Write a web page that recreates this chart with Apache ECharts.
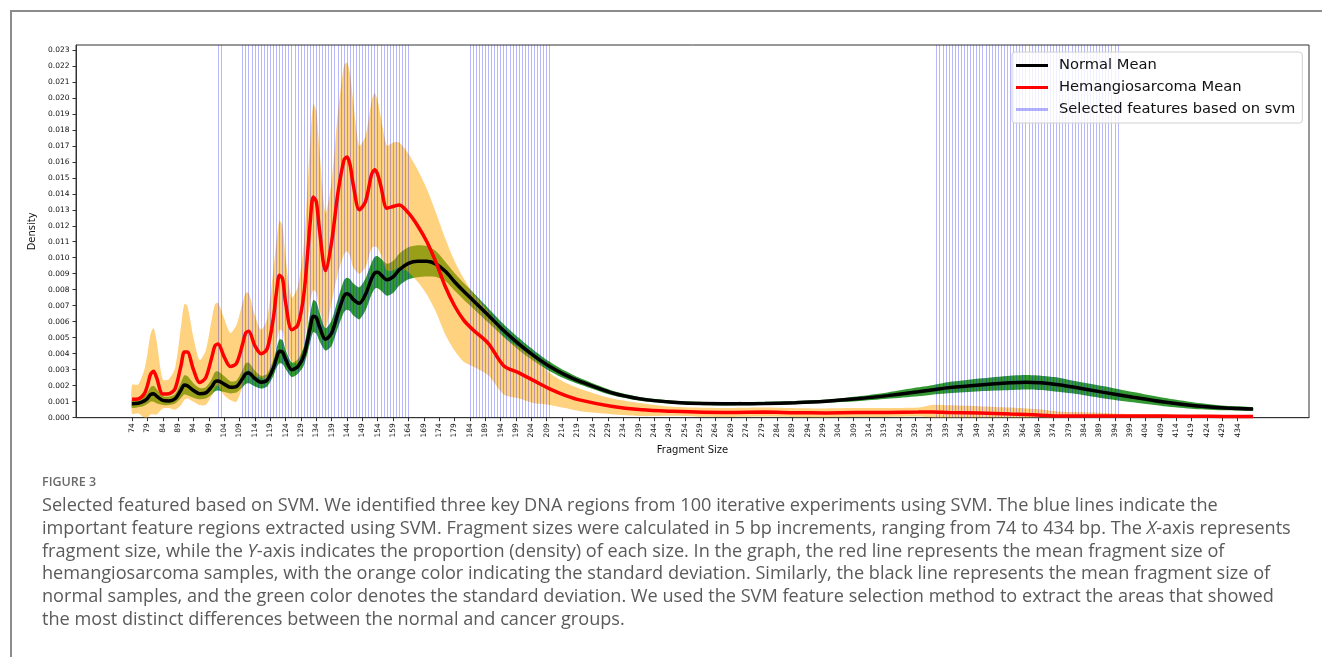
<!DOCTYPE html>
<html>
<head>
<meta charset="utf-8">
<title>Figure 3</title>
<script src="https://cdn.jsdelivr.net/npm/echarts@6.0.0/dist/echarts.min.js"></script>
<style>
html, body { margin: 0; padding: 0; background: #fff; }
#frame { position: absolute; left: 10px; top: 10px; width: 1400px; height: 700px;
  border-left: 2px solid #8c8c8c; border-top: 2px solid #8c8c8c; }
#main { position: absolute; left: 0; top: 0; width: 1322px; height: 657px; }
#caption { position: absolute; left: 0; top: 0; font-family: "Open Sans", sans-serif; white-space: nowrap; }
#caption .fig { position: absolute; left: 42px; top: 474px; font-size: 12.5px; line-height: 16px;
  font-weight: 600; color: #6b6b6b; }
#caption .body { position: absolute; left: 42px; top: 493px; font-size: 16.5px; line-height: 22.8px;
  color: #5a5a5a; }
</style>
</head>
<body>
<div id="frame"></div>
<div id="main"></div>
<div id="caption">
  <div class="fig">FIGURE 3</div>
  <div class="body" id="capbody">Selected featured based on SVM. We identified three key DNA regions from 100 iterative experiments using SVM. The blue lines indicate the<br><span id="line2">important feature regions extracted using SVM. Fragment sizes were calculated in 5 bp increments, ranging from 74 to 434 bp. The <i>X</i>-axis represents</span><br>fragment size, while the <i>Y</i>-axis indicates the proportion (density) of each size. In the graph, the red line represents the mean fragment size of<br>hemangiosarcoma samples, with the orange color indicating the standard deviation. Similarly, the black line represents the mean fragment size of<br>normal samples, and the green color denotes the standard deviation. We used the SVM feature selection method to extract the areas that showed<br>the most distinct differences between the normal and cancer groups.</div>
</div>
<script>
// fragment sizes (bp) where the curves were read
var sizes = [74, 76, 78, 79, 80, 81, 82, 84, 86, 88, 90, 91, 92, 94, 96, 98, 100, 101, 102, 104,
  106, 108, 110, 111, 112, 114, 116, 118, 120, 121, 122, 123, 124, 126, 128, 130, 132, 133, 134, 135,
  137, 139, 141, 143, 144, 145, 146, 148, 150, 152, 153, 154, 155, 157, 159, 161, 164, 167, 170, 173,
  176, 179, 182, 185, 190, 195, 200, 205, 210, 215, 220, 230, 240, 250, 260, 270, 280, 290, 300, 310,
  320, 330, 335, 340, 350, 360, 365, 370, 375, 380, 390, 400, 410, 420, 430, 439];

var normalMean = [0.00087, 0.00090, 0.00105, 0.00120, 0.00145, 0.00150, 0.00135, 0.00108, 0.00105, 0.00118,
  0.00175, 0.00205, 0.00200, 0.00170, 0.00150, 0.00155, 0.00195, 0.00225, 0.00230, 0.00210,
  0.00190, 0.00195, 0.00245, 0.00275, 0.00280, 0.00245, 0.00222, 0.00235, 0.00310, 0.00370,
  0.00415, 0.00410, 0.00365, 0.00300, 0.00320, 0.00390, 0.00560, 0.00635, 0.00625, 0.00570,
  0.00490, 0.00530, 0.00650, 0.00760, 0.00775, 0.00765, 0.00740, 0.00715, 0.00770, 0.00870,
  0.00905, 0.00910, 0.00895, 0.00862, 0.00880, 0.00925, 0.00965, 0.00978, 0.00978, 0.00960,
  0.00915, 0.00850, 0.00790, 0.00735, 0.00640, 0.00545, 0.00460, 0.00385, 0.00320, 0.00268,
  0.00226, 0.00157, 0.00116, 0.00097, 0.00088, 0.00087, 0.00089, 0.00094, 0.00103, 0.00118,
  0.00138, 0.00162, 0.00175, 0.00188, 0.00205, 0.00218, 0.00222, 0.00218, 0.00208, 0.00193,
  0.00160, 0.00128, 0.00098, 0.00075, 0.00060, 0.00054];

var normalStd = [0.00025, 0.00025, 0.00030, 0.00035, 0.00045, 0.00050, 0.00045, 0.00028, 0.00026, 0.00030,
  0.00050, 0.00060, 0.00060, 0.00045, 0.00035, 0.00035, 0.00050, 0.00060, 0.00060, 0.00050,
  0.00038, 0.00038, 0.00055, 0.00065, 0.00065, 0.00050, 0.00040, 0.00040, 0.00050, 0.00060,
  0.00075, 0.00075, 0.00060, 0.00045, 0.00045, 0.00060, 0.00090, 0.00100, 0.00100, 0.00090,
  0.00070, 0.00080, 0.00090, 0.00100, 0.00100, 0.00100, 0.00100, 0.00100, 0.00100, 0.00100,
  0.00100, 0.00100, 0.00100, 0.00100, 0.00100, 0.00100, 0.00100, 0.00100, 0.00095, 0.00080,
  0.00060, 0.00055, 0.00052, 0.00050, 0.00045, 0.00040, 0.00038, 0.00034, 0.00030, 0.00025,
  0.00020, 0.00015, 0.00012, 0.00010, 0.00010, 0.00010, 0.00010, 0.00010, 0.00010, 0.00015,
  0.00020, 0.00028, 0.00030, 0.00035, 0.00040, 0.00045, 0.00045, 0.00045, 0.00045, 0.00040,
  0.00038, 0.00032, 0.00026, 0.00020, 0.00014, 0.00010];

var hemMean = [0.00115, 0.00118, 0.00150, 0.00200, 0.00270, 0.00290, 0.00250, 0.00148, 0.00150, 0.00180,
  0.00330, 0.00410, 0.00410, 0.00300, 0.00220, 0.00250, 0.00380, 0.00450, 0.00460, 0.00380,
  0.00320, 0.00340, 0.00460, 0.00530, 0.00540, 0.00450, 0.00400, 0.00430, 0.00620, 0.00780,
  0.00890, 0.00870, 0.00720, 0.00550, 0.00580, 0.00780, 0.01220, 0.01380, 0.01350, 0.01180,
  0.00920, 0.01100, 0.01400, 0.01610, 0.01630, 0.01580, 0.01460, 0.01300, 0.01350, 0.01520,
  0.01550, 0.01520, 0.01450, 0.01310, 0.01320, 0.01330, 0.01280, 0.01200, 0.01100, 0.00970,
  0.00820, 0.00700, 0.00610, 0.00550, 0.00465, 0.00325, 0.00280, 0.00230, 0.00180, 0.00140,
  0.00110, 0.00072, 0.00050, 0.00040, 0.00034, 0.00033, 0.00035, 0.00031, 0.00030, 0.00032,
  0.00033, 0.00035, 0.00036, 0.00033, 0.00030, 0.00023, 0.00020, 0.00016, 0.00011, 0.00010,
  0.00010, 0.00010, 0.00010, 0.00009, 0.00008, 0.00008];

var hemStd = [0.00090, 0.00090, 0.00150, 0.00200, 0.00250, 0.00270, 0.00230, 0.00090, 0.00090, 0.00130,
  0.00250, 0.00300, 0.00290, 0.00200, 0.00140, 0.00170, 0.00240, 0.00260, 0.00260, 0.00240,
  0.00210, 0.00240, 0.00260, 0.00250, 0.00240, 0.00190, 0.00150, 0.00190, 0.00300, 0.00320,
  0.00340, 0.00330, 0.00280, 0.00200, 0.00240, 0.00320, 0.00500, 0.00580, 0.00570, 0.00500,
  0.00360, 0.00380, 0.00500, 0.00590, 0.00590, 0.00570, 0.00520, 0.00400, 0.00410, 0.00460,
  0.00480, 0.00460, 0.00430, 0.00390, 0.00400, 0.00390, 0.00370, 0.00350, 0.00330, 0.00310,
  0.00300, 0.00280, 0.00260, 0.00230, 0.00200, 0.00180, 0.00160, 0.00140, 0.00100, 0.00080,
  0.00070, 0.00050, 0.00040, 0.00028, 0.00028, 0.00028, 0.00028, 0.00028, 0.00028, 0.00028,
  0.00028, 0.00028, 0.00045, 0.00045, 0.00042, 0.00040, 0.00038, 0.00036, 0.00030, 0.00025,
  0.00020, 0.00012, 0.00010, 0.00008, 0.00008, 0.00008];

// SVM selected feature regions (first and last bp of each run)
var svmRanges = [[102, 103], [110, 164], [184, 210], [336, 395]];

var xTicks = [74, 79, 84, 89, 94, 99, 104, 109, 114, 119, 124, 129, 134, 139, 144, 149, 154, 159, 164, 169,
  174, 179, 184, 189, 194, 199, 204, 209, 214, 219, 224, 229, 234, 239, 244, 249, 254, 259, 264, 269,
  274, 279, 284, 289, 294, 299, 304, 309, 314, 319, 324, 329, 334, 339, 344, 349, 354, 359, 364, 369,
  374, 379, 384, 389, 394, 399, 404, 409, 414, 419, 424, 429, 434];

var myChart = echarts.init(document.getElementById('main'));

function pairs(vals) {
  return sizes.map(function (s, i) { return [s, vals[i]]; });
}
// [size, mean - std, mean + std] rows for the shaded bands
function bandRows(mean, sd) {
  return sizes.map(function (s, i) { return [s, Math.max(0, mean[i] - sd[i]), mean[i] + sd[i]]; });
}

// one closed, smoothed polygon per band: upper edge left->right, lower edge back
function bandSeries(name, rows, fill, z) {
  return {
    name: name, type: 'custom', data: rows, z: z, silent: true, clip: true,
    encode: { x: 0, y: [1, 2] },
    renderItem: function (params, api) {
      if (params.dataIndex !== 0) return;
      var top = [], bottom = [];
      for (var i = 0; i < rows.length; i++) {
        top.push(api.coord([rows[i][0], rows[i][2]]));
        bottom.push(api.coord([rows[i][0], rows[i][1]]));
      }
      return {
        type: 'polygon',
        shape: { points: top.concat(bottom.reverse()), smooth: 0.25 },
        style: { fill: fill, stroke: null }
      };
    }
  };
}

var svmLines = [];
svmRanges.forEach(function (r) {
  for (var v = r[0]; v <= r[1]; v++) svmLines.push({ xAxis: v });
});

var smoothness = 0.3;
var tickFont = { fontFamily: 'DejaVu Sans', fontSize: 7.5, color: '#111' };

var option = {
  animation: false,
  grid: { left: 76, top: 45, width: 1233, height: 372.7, show: true, borderColor: '#333', borderWidth: 1 },
  legend: {
    orient: 'vertical',
    left: 1012, top: 52,
    padding: [5, 7, 5, 4],
    itemGap: 5,
    itemWidth: 32, itemHeight: 3,
    icon: 'rect',
    backgroundColor: 'rgba(255,255,255,0.8)',
    borderColor: '#d0d0d0', borderWidth: 1, borderRadius: 3,
    textStyle: { fontFamily: 'DejaVu Sans', fontSize: 14.7, color: '#111', lineHeight: 17, padding: [0, 0, 0, 6] },
    data: ['Normal Mean', 'Hemangiosarcoma Mean', 'Selected features based on svm']
  },
  xAxis: {
    type: 'value',
    min: 55.75, max: 457.25,
    name: 'Fragment Size', nameLocation: 'middle', nameGap: 26,
    nameTextStyle: { fontFamily: 'DejaVu Sans', fontSize: 10, color: '#111' },
    axisLine: { lineStyle: { color: '#333', width: 1 } },
    axisTick: { customValues: xTicks, length: 3.5, lineStyle: { color: '#333' } },
    axisLabel: Object.assign({ customValues: xTicks, rotate: 90, margin: 5.5 }, tickFont),
    splitLine: { show: false }
  },
  yAxis: {
    type: 'value',
    min: 0, max: 0.0233, interval: 0.001,
    name: 'Density', nameLocation: 'middle', nameGap: 34, nameRotate: 90,
    nameTextStyle: { fontFamily: 'DejaVu Sans', fontSize: 10, color: '#111' },
    axisLine: { show: true, lineStyle: { color: '#333', width: 1 } },
    axisTick: { show: true, length: 3.5, lineStyle: { color: '#333' } },
    axisLabel: Object.assign({ margin: 6.5, formatter: function (v) { return v.toFixed(3); } }, tickFont),
    splitLine: { show: false }
  },
  series: [
    bandSeries('normalBand', bandRows(normalMean, normalStd), 'rgba(0,128,0,0.8)', 1),
    bandSeries('hemBand', bandRows(hemMean, hemStd), 'rgba(255,165,0,0.5)', 2),
    { name: 'Selected features based on svm', type: 'line', data: [], color: 'rgba(0,0,255,0.3)',
      symbol: 'none', z: 3,
      markLine: { silent: true, symbol: ['none', 'none'], label: { show: false }, z: 3,
        lineStyle: { color: 'rgba(0,0,255,0.28)', width: 1, type: 'solid' }, data: svmLines } },
    { name: 'Normal Mean', type: 'line', data: pairs(normalMean), color: '#000',
      symbol: 'none', smooth: smoothness, lineStyle: { width: 3.5, color: '#000' }, z: 6 },
    { name: 'Hemangiosarcoma Mean', type: 'line', data: pairs(hemMean), color: '#ff0000',
      symbol: 'none', smooth: smoothness, lineStyle: { width: 3.5, color: '#ff0000' }, z: 7 }
  ]
};

myChart.setOption(option);

// size the caption so that its longest line ends where the original does
(function () {
  var body = document.getElementById('capbody');
  var natural = document.getElementById('line2').getBoundingClientRect().width;
  var target = 1250;
  body.style.fontSize = (16.5 * target / natural).toFixed(2) + 'px';
})();
</script>
</body>
</html>
